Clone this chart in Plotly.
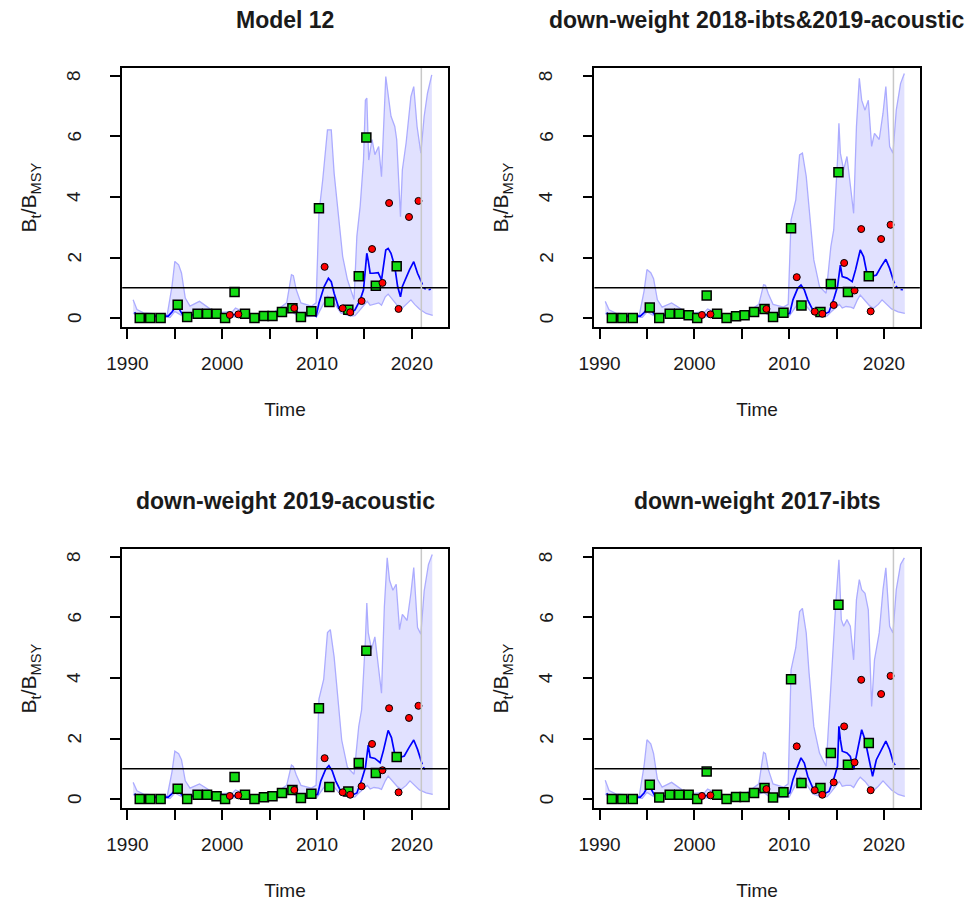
import plotly.graph_objects as go

W, H = 973, 907

TITLES = ["Model 12", "down-weight 2018-ibts&2019-acoustic",
          "down-weight 2019-acoustic", "down-weight 2017-ibts"]
X_LABEL = "Time"
Y_LABEL = "B<sub>t</sub>/B<sub>MSY</sub>"
X_MAJOR_START, X_MAJOR_STEP, X_MINOR_STEP = 1990, 10, 5
Y_TICKS = [0, 2, 4, 6, 8]
REF_LEVEL = 1.0
LAST_DATA_YEAR = 2021.0

# ---------------- Panel 1: Model 12 ----------------
P1_B = [(1990.75,0.19),(1991.0,0.1),(1991.5,0.07),(1993.0,0.07),(1994.3,0.06),(1994.7,0.2),(1995.1,0.39),
        (1995.4,0.33),(1995.8,0.12),(1996.2,0.06),(1996.8,0.1),(1997.5,0.14),(1998.5,0.13),(1999.5,0.09),
        (2000.2,0.06),(2000.8,0.1),(2001.5,0.12),(2002.3,0.1),(2003.3,0.05),(2004.3,0.07),(2005.3,0.09),
        (2006.0,0.15),(2006.6,0.25),(2007.3,0.36),(2007.8,0.22),(2008.3,0.1),(2009.0,0.12),(2009.6,0.13),
        (2009.9,0.06),(2010.2,0.49),(2010.75,1.04),(2011.2,1.31),(2011.5,1.2),(2011.8,0.82),(2012.3,0.32),
        (2012.65,0.27),(2013.5,0.15),(2014.0,0.27),(2014.55,0.6),(2014.9,0.93),(2015.25,2.14),(2015.4,1.9),
        (2015.6,1.48),(2015.9,1.48),(2016.45,1.5),(2016.8,1.26),(2017.25,2.25),(2017.5,2.3),(2017.8,2.14),
        (2018.2,1.7),(2018.5,1.04),(2018.8,0.7),(2019.0,1.04),(2019.75,1.59),(2020.2,1.86),(2020.6,1.48),
        (2021.0,1.2)]
P1_FC = [(2021.0,1.2),(2021.3,0.98),(2021.65,0.93),(2022.0,0.95)]
P1_UPPER = [(1990.6,0.6),(1991.0,0.28),(1991.7,0.17),(1994.2,0.11),(1994.7,1.05),(1995.0,1.87),(1995.4,1.76),
            (1995.7,1.49),(1996.1,0.66),(1996.6,0.39),(1997.6,0.55),(1998.3,0.39),(1999.3,0.17),(2001.1,0.22),
            (2001.4,0.33),(2002.1,0.22),(2003.5,0.11),(2005.6,0.22),(2006.8,0.5),(2007.3,1.43),(2007.5,1.4),
            (2007.8,0.94),(2008.3,0.5),(2009.4,0.39),(2009.9,0.5),(2010.2,3.47),(2010.6,4.57),(2011.1,6.22),
            (2011.5,6.22),(2011.8,4.79),(2012.2,3.47),(2012.7,2.04),(2013.2,1.27),(2013.9,0.61),(2014.2,2.7),
            (2014.55,3.7),(2014.9,5.22),(2015.1,7.2),(2015.25,7.27),(2015.45,5.22),(2015.8,5.9),(2016.1,5.4),
            (2016.5,5.67),(2016.8,4.67),(2017.25,7.98),(2017.5,7.43),(2017.8,6.67),(2018.2,6.33),(2018.4,5.9),
            (2018.8,3.35),(2019.0,4.9),(2019.4,5.8),(2019.9,7.32),(2020.2,7.65),(2020.55,6.33),(2020.95,5.45),
            (2021.3,6.67),(2021.65,7.43),(2022.1,8.04)]
P1_LOWER = [(1990.6,0.17),(1991.0,0.05),(1991.5,0.02),(1994.5,0.02),(1995.0,0.22),(1995.4,0.15),(1995.9,0.05),
            (1997.5,0.06),(2000.0,0.03),(2002.0,0.05),(2004.0,0.03),(2006.0,0.06),(2007.3,0.22),(2007.8,0.1),
            (2008.5,0.04),(2010.0,0.06),(2010.5,0.35),(2011.1,0.72),(2011.5,0.65),(2011.8,0.5),(2012.5,0.17),
            (2013.5,0.06),(2014.0,0.08),(2014.4,0.22),(2014.9,0.4),(2015.3,0.55),(2015.6,0.42),(2016.0,0.45),
            (2016.5,0.5),(2016.8,0.42),(2017.2,0.7),(2017.5,0.79),(2018.0,0.61),(2018.5,0.4),(2018.9,0.3),
            (2019.4,0.45),(2019.9,0.6),(2020.3,0.45),(2020.8,0.3),(2021.5,0.15),(2022.2,0.09)]
P1_IDX1 = [(1991.3,0.0),(1992.4,0.0),(1993.5,0.0),(1995.3,0.44),(1996.3,0.03),(1997.4,0.14),(1998.4,0.14),
           (1999.4,0.14),(2000.3,0.0),(2001.3,0.86),(2002.4,0.14),(2003.4,0.0),(2004.4,0.07),(2005.3,0.07),
           (2006.3,0.2),(2007.4,0.32),(2008.3,0.03),(2009.4,0.22),(2010.2,3.63),(2011.3,0.53),(2013.3,0.27),
           (2014.4,1.38),(2015.2,5.97),(2016.2,1.07),(2018.4,1.71)]
P1_IDX2 = [(2000.8,0.1),(2001.7,0.12),(2007.6,0.33),(2010.8,1.69),(2012.7,0.32),(2013.5,0.19),(2014.7,0.56),
           (2015.8,2.28),(2016.9,1.16),(2017.6,3.8),(2018.6,0.3),(2019.7,3.34),(2020.7,3.87)]

# ---------------- Panel 2: down-weight 2018-ibts & 2019-acoustic ----------------
P2_B = [(1990.75,0.18),(1991.0,0.1),(1991.5,0.07),(1993.0,0.07),(1994.3,0.06),(1994.7,0.18),(1995.1,0.33),
        (1995.4,0.28),(1995.8,0.11),(1996.2,0.06),(1996.8,0.1),(1997.5,0.13),(1998.5,0.12),(1999.5,0.08),
        (2000.2,0.06),(2000.8,0.1),(2001.5,0.11),(2002.3,0.09),(2003.3,0.05),(2004.3,0.07),(2005.3,0.08),
        (2006.0,0.14),(2006.6,0.22),(2007.3,0.3),(2007.8,0.2),(2008.3,0.1),(2009.0,0.11),(2009.6,0.12),
        (2010.06,0.15),(2010.4,0.6),(2010.9,0.98),(2011.25,1.09),(2011.6,0.93),(2011.96,0.6),(2012.5,0.26),
        (2013.5,0.1),(2014.2,0.2),(2014.73,0.65),(2015.1,1.04),(2015.4,1.75),(2015.6,1.37),(2016.1,1.32),
        (2016.65,1.2),(2017.0,1.59),(2017.5,2.25),(2017.85,2.03),(2018.2,1.48),(2018.7,1.37),(2019.2,1.42),
        (2019.7,1.7),(2020.2,1.94),(2020.6,1.64),(2021.0,1.24)]
P2_FC = [(2021.0,1.24),(2021.3,1.04),(2021.65,0.95),(2022.0,0.93)]
P2_UPPER = [(1990.6,0.55),(1991.0,0.27),(1991.7,0.16),(1994.2,0.1),(1994.7,0.9),(1995.0,1.6),(1995.4,1.5),
            (1995.7,1.3),(1996.1,0.6),(1996.6,0.36),(1997.6,0.5),(1998.3,0.36),(1999.3,0.16),(2001.1,0.2),
            (2001.4,0.3),(2002.1,0.2),(2003.5,0.1),(2005.6,0.2),(2006.8,0.45),(2007.3,1.1),(2007.5,1.08),
            (2007.8,0.8),(2008.3,0.45),(2009.4,0.36),(2009.9,0.45),(2010.2,3.24),(2010.7,3.9),(2011.1,5.39),
            (2011.4,5.45),(2011.8,4.68),(2012.1,3.57),(2012.6,1.92),(2013.2,1.04),(2013.9,0.82),(2014.4,2.36),
            (2014.7,2.91),(2015.1,5.22),(2015.25,6.44),(2015.4,5.45),(2015.75,4.9),(2016.1,5.34),(2016.45,4.35),
            (2016.8,3.46),(2017.1,6.33),(2017.4,7.92),(2017.65,7.2),(2018.0,6.87),(2018.35,7.2),(2018.7,5.67),
            (2019.0,6.1),(2019.5,5.9),(2019.9,6.77),(2020.2,7.65),(2020.6,5.67),(2020.95,5.45),(2021.3,6.87),
            (2021.75,7.75),(2022.15,8.08)]
P2_LOWER = [(1990.6,0.16),(1991.0,0.05),(1991.5,0.02),(1994.5,0.02),(1995.0,0.2),(1995.4,0.14),(1995.9,0.05),
            (1997.5,0.06),(2000.0,0.03),(2002.0,0.05),(2004.0,0.03),(2006.0,0.06),(2007.3,0.2),(2007.8,0.1),
            (2008.5,0.04),(2010.0,0.06),(2010.5,0.3),(2011.1,0.55),(2011.5,0.5),(2011.8,0.4),(2012.5,0.14),
            (2013.5,0.05),(2014.0,0.07),(2014.4,0.2),(2014.9,0.35),(2015.3,0.45),(2015.6,0.33),(2016.0,0.38),
            (2016.5,0.36),(2016.8,0.32),(2017.2,0.6),(2017.5,0.76),(2018.0,0.58),(2018.5,0.4),(2018.9,0.32),
            (2019.4,0.45),(2019.8,0.6),(2020.3,0.45),(2020.8,0.3),(2021.5,0.2),(2022.2,0.15)]
P2_IDX1 = [(1991.3,0.0),(1992.4,0.0),(1993.5,0.0),(1995.3,0.35),(1996.3,0.0),(1997.4,0.14),(1998.4,0.14),
           (1999.4,0.09),(2000.3,0.0),(2001.3,0.74),(2002.4,0.14),(2003.4,0.0),(2004.4,0.06),(2005.3,0.09),
           (2006.3,0.2),(2007.4,0.3),(2008.3,0.03),(2009.4,0.17),(2010.2,2.97),(2011.3,0.41),(2013.3,0.2),
           (2014.4,1.12),(2015.2,4.82),(2016.2,0.86),(2018.4,1.38)]
P2_IDX2 = [(2000.8,0.1),(2001.7,0.12),(2007.6,0.3),(2010.8,1.35),(2012.7,0.21),(2013.5,0.14),(2014.7,0.43),
           (2015.8,1.82),(2016.9,0.91),(2017.6,2.94),(2018.6,0.22),(2019.7,2.61),(2020.7,3.08)]

# ---------------- Panel 3: down-weight 2019-acoustic ----------------
P3_B = [(1990.75,0.18),(1991.0,0.1),(1991.5,0.07),(1993.0,0.07),(1994.3,0.06),(1994.7,0.18),(1995.1,0.32),
        (1995.4,0.27),(1995.8,0.11),(1996.2,0.06),(1996.8,0.1),(1997.5,0.13),(1998.5,0.12),(1999.5,0.08),
        (2000.2,0.06),(2000.8,0.1),(2001.5,0.11),(2002.3,0.09),(2003.3,0.05),(2004.3,0.07),(2005.3,0.08),
        (2006.0,0.14),(2006.6,0.22),(2007.3,0.3),(2007.8,0.2),(2008.3,0.1),(2009.0,0.11),(2009.6,0.12),
        (2010.06,0.15),(2010.4,0.6),(2010.9,0.98),(2011.25,1.1),(2011.6,0.93),(2011.96,0.6),(2012.5,0.26),
        (2013.5,0.1),(2014.2,0.2),(2014.73,0.65),(2015.1,1.04),(2015.4,1.78),(2015.6,1.38),(2016.1,1.34),
        (2016.65,1.2),(2017.0,1.6),(2017.5,2.27),(2017.85,2.03),(2018.2,1.48),(2018.7,1.37),(2019.2,1.42),
        (2019.7,1.7),(2020.2,1.95),(2020.6,1.64),(2021.0,1.24)]
P3_FC = [(2021.0,1.24),(2021.3,1.0),(2021.5,0.95)]
P3_UPPER = [(1990.6,0.55),(1991.0,0.27),(1991.7,0.16),(1994.2,0.1),(1994.7,0.9),(1995.0,1.58),(1995.4,1.5),
            (1995.7,1.3),(1996.1,0.6),(1996.6,0.36),(1997.6,0.5),(1998.3,0.36),(1999.3,0.16),(2001.1,0.2),
            (2001.4,0.3),(2002.1,0.2),(2003.5,0.1),(2005.6,0.2),(2006.8,0.45),(2007.3,1.12),(2007.5,1.08),
            (2007.8,0.8),(2008.3,0.45),(2009.4,0.36),(2009.9,0.45),(2010.2,3.3),(2010.7,3.95),(2011.1,5.5),
            (2011.4,5.6),(2011.8,4.7),(2012.1,3.6),(2012.6,1.95),(2013.2,1.05),(2013.9,0.82),(2014.4,2.4),
            (2014.7,2.95),(2015.1,5.25),(2015.25,6.48),(2015.4,5.5),(2015.75,4.95),(2016.1,5.36),(2016.45,4.4),
            (2016.8,3.5),(2017.1,6.35),(2017.4,7.97),(2017.65,7.22),(2018.0,6.9),(2018.35,7.1),(2018.7,5.6),
            (2019.0,6.1),(2019.5,5.9),(2019.9,6.8),(2020.2,7.65),(2020.6,5.67),(2020.95,5.45),(2021.3,6.87),
            (2021.75,7.75),(2022.15,8.08)]
P3_LOWER = [(1990.6,0.16),(1991.0,0.05),(1991.5,0.02),(1994.5,0.02),(1995.0,0.2),(1995.4,0.14),(1995.9,0.05),
            (1997.5,0.06),(2000.0,0.03),(2002.0,0.05),(2004.0,0.03),(2006.0,0.06),(2007.3,0.2),(2007.8,0.1),
            (2008.5,0.04),(2010.0,0.06),(2010.5,0.3),(2011.1,0.55),(2011.5,0.5),(2011.8,0.4),(2012.5,0.14),
            (2013.5,0.05),(2014.0,0.07),(2014.4,0.2),(2014.9,0.35),(2015.3,0.45),(2015.6,0.33),(2016.0,0.38),
            (2016.5,0.36),(2016.8,0.32),(2017.2,0.6),(2017.5,0.76),(2018.0,0.58),(2018.5,0.4),(2018.9,0.32),
            (2019.4,0.45),(2019.8,0.6),(2020.3,0.45),(2020.8,0.3),(2021.5,0.2),(2022.2,0.15)]
P3_IDX1 = [(1991.3,0.0),(1992.4,0.0),(1993.5,0.0),(1995.3,0.34),(1996.3,0.0),(1997.4,0.14),(1998.4,0.14),
           (1999.4,0.09),(2000.3,0.0),(2001.3,0.73),(2002.4,0.14),(2003.4,0.0),(2004.4,0.06),(2005.3,0.09),
           (2006.3,0.2),(2007.4,0.3),(2008.3,0.03),(2009.4,0.17),(2010.2,3.0),(2011.3,0.4),(2013.3,0.25),
           (2014.4,1.19),(2015.2,4.9),(2016.2,0.86),(2018.4,1.39)]
P3_IDX2 = [(2000.8,0.1),(2001.7,0.12),(2007.6,0.3),(2010.8,1.35),(2012.7,0.22),(2013.5,0.14),(2014.7,0.42),
           (2015.8,1.82),(2016.9,0.95),(2017.6,3.0),(2018.6,0.22),(2019.7,2.68),(2020.7,3.08)]

# ---------------- Panel 4: down-weight 2017-ibts ----------------
P4_B = [(1990.75,0.19),(1991.0,0.1),(1991.5,0.07),(1993.0,0.07),(1994.3,0.06),(1994.7,0.2),(1995.1,0.42),
        (1995.4,0.35),(1995.8,0.12),(1996.2,0.06),(1996.8,0.1),(1997.5,0.14),(1998.5,0.13),(1999.5,0.09),
        (2000.2,0.06),(2000.8,0.1),(2001.5,0.12),(2002.3,0.1),(2003.3,0.05),(2004.3,0.07),(2005.3,0.09),
        (2006.0,0.15),(2006.6,0.25),(2007.3,0.37),(2007.8,0.22),(2008.3,0.1),(2009.0,0.12),(2009.6,0.13),
        (2010.06,0.2),(2010.4,0.64),(2010.9,1.08),(2011.25,1.36),(2011.6,1.19),(2011.96,0.75),(2012.5,0.36),
        (2013.5,0.14),(2014.2,0.25),(2014.73,0.69),(2015.1,1.08),(2015.25,2.4),(2015.4,1.96),(2015.6,1.58),
        (2016.1,1.52),(2016.45,1.41),(2016.8,0.97),(2017.1,1.41),(2017.65,2.29),(2018.0,1.96),(2018.35,1.41),
        (2018.8,0.75),(2019.2,1.3),(2019.7,1.63),(2020.2,1.91),(2020.6,1.63),(2021.0,1.2)]
P4_FC = [(2021.0,1.2),(2021.3,1.08)]
P4_UPPER = [(1990.6,0.62),(1991.0,0.28),(1991.7,0.17),(1994.2,0.11),(1994.7,1.1),(1995.0,1.96),(1995.4,1.82),
            (1995.7,1.5),(1996.1,0.66),(1996.6,0.39),(1997.6,0.55),(1998.3,0.39),(1999.3,0.17),(2001.1,0.22),
            (2001.4,0.33),(2002.1,0.22),(2003.5,0.11),(2005.6,0.22),(2006.8,0.5),(2007.3,1.54),(2007.5,1.5),
            (2007.8,0.98),(2008.3,0.5),(2009.4,0.39),(2009.9,0.5),(2010.2,4.27),(2010.7,5.0),(2011.1,6.2),
            (2011.4,6.3),(2011.8,5.49),(2012.1,4.17),(2012.6,2.4),(2013.2,1.52),(2013.9,1.08),(2014.4,3.94),
            (2014.9,6.37),(2015.25,7.91),(2015.5,5.93),(2015.75,5.71),(2016.1,5.93),(2016.45,5.71),(2016.8,4.6),
            (2017.1,6.59),(2017.4,7.25),(2017.65,6.92),(2018.0,6.8),(2018.35,6.25),(2018.7,3.06),(2019.0,4.6),
            (2019.5,5.49),(2019.9,6.92),(2020.2,7.64),(2020.6,5.71),(2020.95,5.49),(2021.3,6.92),(2021.75,7.75),
            (2022.15,7.97)]
P4_LOWER = [(1990.6,0.17),(1991.0,0.05),(1991.5,0.02),(1994.5,0.02),(1995.0,0.22),(1995.4,0.15),(1995.9,0.05),
            (1997.5,0.06),(2000.0,0.03),(2002.0,0.05),(2004.0,0.03),(2006.0,0.06),(2007.3,0.22),(2007.8,0.1),
            (2008.5,0.04),(2010.0,0.06),(2010.5,0.35),(2011.1,0.72),(2011.5,0.65),(2011.8,0.5),(2012.5,0.17),
            (2013.5,0.06),(2014.0,0.08),(2014.4,0.22),(2014.9,0.4),(2015.3,0.58),(2015.6,0.42),(2016.0,0.45),
            (2016.5,0.45),(2016.8,0.38),(2017.2,0.6),(2017.5,0.72),(2018.0,0.58),(2018.5,0.38),(2018.9,0.28),
            (2019.4,0.42),(2019.9,0.6),(2020.3,0.45),(2020.8,0.3),(2021.5,0.15),(2022.2,0.09)]
P4_IDX1 = [(1991.3,0.0),(1992.4,0.0),(1993.5,0.0),(1995.3,0.47),(1996.3,0.05),(1997.4,0.14),(1998.4,0.14),
           (1999.4,0.14),(2000.3,0.0),(2001.3,0.91),(2002.4,0.14),(2003.4,0.0),(2004.4,0.07),(2005.3,0.07),
           (2006.3,0.2),(2007.4,0.36),(2008.3,0.05),(2009.4,0.22),(2010.2,3.96),(2011.3,0.53),(2013.3,0.36),
           (2014.4,1.52),(2015.2,6.42),(2016.2,1.13),(2018.4,1.85)]
P4_IDX2 = [(2000.8,0.1),(2001.7,0.12),(2007.6,0.33),(2010.8,1.74),(2012.7,0.29),(2013.5,0.14),(2014.7,0.55),
           (2015.8,2.4),(2016.9,1.21),(2017.6,3.94),(2018.6,0.29),(2019.7,3.47),(2020.7,4.07)]

PANELS = [
    (P1_B, P1_FC, P1_UPPER, P1_LOWER, P1_IDX1, P1_IDX2),
    (P2_B, P2_FC, P2_UPPER, P2_LOWER, P2_IDX1, P2_IDX2),
    (P3_B, P3_FC, P3_UPPER, P3_LOWER, P3_IDX1, P3_IDX2),
    (P4_B, P4_FC, P4_UPPER, P4_LOWER, P4_IDX1, P4_IDX2),
]

# plot boxes in pixels: (left, top, right, bottom)
BOXES = [(108, 68, 439, 327), (588, 68, 919, 327), (108, 549, 439, 808), (588, 549, 919, 808)]
X_RANGE = [1989.45, 2023.79]
Y_RANGE = [-0.2975, 8.264]

FONT = "Liberation Sans, Arial, sans-serif"
TEXT_COL = "#1a1a1a"
FILL_COL = "rgba(225,225,255,1)"
EDGE_COL = "rgb(172,172,255)"
LINE_COL = "rgb(0,0,255)"
GREEN = "rgb(20,220,20)"
RED = "rgb(255,0,0)"


def xs(pts):
    return [p[0] for p in pts]


def ys(pts):
    return [p[1] for p in pts]


fig = go.Figure()
annotations = []
shapes = []

for i, (b, fc, up, lo, i1, i2) in enumerate(PANELS):
    n = "" if i == 0 else str(i + 1)
    xa, ya = "x" + n, "y" + n
    L, T, R, B = BOXES[i]
    # CI polygon
    fig.add_trace(go.Scatter(x=xs(up) + xs(lo)[::-1], y=ys(up) + ys(lo)[::-1], fill="toself",
                             fillcolor=FILL_COL, line=dict(width=0), mode="lines",
                             xaxis=xa, yaxis=ya, hoverinfo="skip", showlegend=False))
    for edge in (up, lo):
        fig.add_trace(go.Scatter(x=xs(edge), y=ys(edge), mode="lines",
                                 line=dict(color=EDGE_COL, width=1.3),
                                 xaxis=xa, yaxis=ya, showlegend=False))
    fig.add_trace(go.Scatter(x=xs(b), y=ys(b), mode="lines", line=dict(color=LINE_COL, width=1.7),
                             xaxis=xa, yaxis=ya, showlegend=False))
    fig.add_trace(go.Scatter(x=xs(fc), y=ys(fc), mode="lines",
                             line=dict(color=LINE_COL, width=1.5, dash="dot"),
                             xaxis=xa, yaxis=ya, showlegend=False))
    fig.add_trace(go.Scatter(x=xs(i1), y=ys(i1), mode="markers",
                             marker=dict(symbol="square", size=9, color=GREEN,
                                         line=dict(color="black", width=1.5)),
                             xaxis=xa, yaxis=ya, showlegend=False))
    fig.add_trace(go.Scatter(x=xs(i2), y=ys(i2), mode="markers",
                             marker=dict(symbol="circle", size=7, color=RED,
                                         line=dict(color="black", width=1)),
                             xaxis=xa, yaxis=ya, showlegend=False))
    xdom = [L / W, R / W]
    ydom = [1 - B / H, 1 - T / H]
    axis_common = dict(showline=True, mirror=True, linecolor="black", linewidth=1.5,
                       ticks="outside", ticklen=10, tickwidth=1.5, tickcolor="black",
                       showgrid=False, zeroline=False,
                       tickfont=dict(family=FONT, size=19, color=TEXT_COL))
    fig.layout["xaxis" + n] = dict(domain=xdom, range=X_RANGE, anchor=ya, tickmode="linear",
                                   tick0=X_MAJOR_START, dtick=X_MAJOR_STEP, ticklabelstandoff=8,
                                   minor=dict(ticks="outside", tick0=X_MAJOR_START, dtick=X_MINOR_STEP,
                                              ticklen=10, tickwidth=1.5, tickcolor="black",
                                              showgrid=False),
                                   title=dict(text=X_LABEL, standoff=30,
                                              font=dict(family=FONT, size=19, color=TEXT_COL)),
                                   **axis_common)
    fig.layout["yaxis" + n] = dict(domain=ydom, range=Y_RANGE, anchor=xa, tickmode="array",
                                   tickvals=Y_TICKS, showticklabels=False,
                                   title=dict(text=Y_LABEL, standoff=68,
                                              font=dict(family=FONT, size=21, color=TEXT_COL)),
                                   **axis_common)
    # y tick labels drawn parallel to the axis (R style), positioned at the tick values
    for v in Y_TICKS:
        annotations.append(dict(text=str(v), x=(L - 49) / W, y=v, xref="paper", yref=ya,
                                showarrow=False, textangle=-90, xanchor="center", yanchor="middle",
                                font=dict(family=FONT, size=19, color=TEXT_COL)))
    shapes.append(dict(type="line", xref=xa + " domain", yref=ya, x0=0, x1=1, y0=REF_LEVEL, y1=REF_LEVEL,
                       line=dict(color="black", width=1.6), layer="above"))
    shapes.append(dict(type="line", xref=xa, yref=ya + " domain", x0=LAST_DATA_YEAR, x1=LAST_DATA_YEAR,
                       y0=0, y1=1, line=dict(color="rgb(200,200,200)", width=1.5), layer="above"))
    cx = (L + R) / 2
    annotations.append(dict(text="<b>" + TITLES[i] + "</b>", x=cx / W, y=1 - (T - 48) / H,
                            xref="paper", yref="paper", showarrow=False, xanchor="center", yanchor="middle",
                            font=dict(family=FONT, size=23, color=TEXT_COL)))

fig.update_layout(width=W, height=H, margin=dict(l=0, r=0, t=0, b=0),
                  paper_bgcolor="white", plot_bgcolor="white", showlegend=False,
                  annotations=annotations, shapes=shapes)
fig.write_html("out.html")
